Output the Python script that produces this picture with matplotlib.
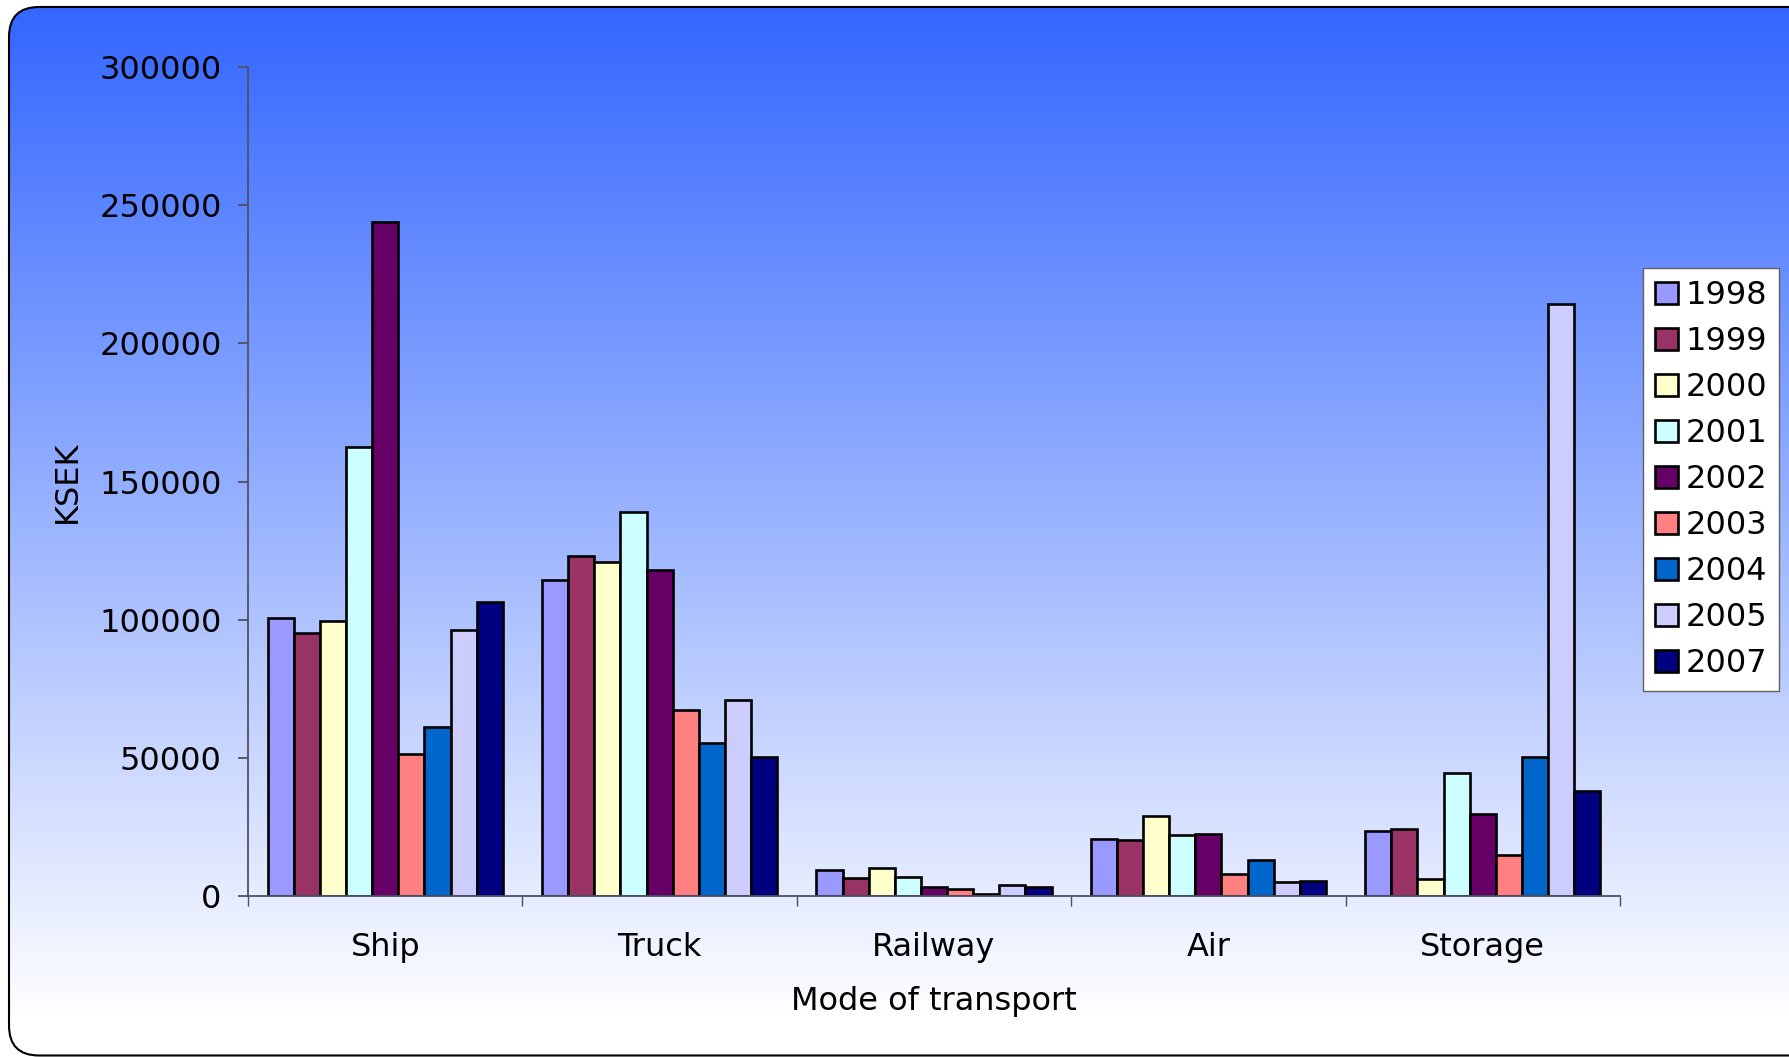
import numpy as np
import matplotlib
matplotlib.use("Agg")
import matplotlib.pyplot as plt
from matplotlib.patches import FancyBboxPatch
from matplotlib.colors import to_rgb

# ---------------- data ----------------
categories = ["Ship", "Truck", "Railway", "Air", "Storage"]
years = ["1998", "1999", "2000", "2001", "2002", "2003", "2004", "2005", "2007"]

v1998 = [100700, 114200, 9500, 20600, 23600]
v1999 = [95200, 123200, 6600, 20300, 24300]
v2000 = [99400, 120800, 10200, 29000, 6200]
v2001 = [162600, 138900, 6700, 22100, 44600]
v2002 = [243800, 118100, 3200, 22300, 29800]
v2003 = [51300, 67200, 2500, 8000, 15000]
v2004 = [61200, 55200, 800, 13000, 50200]
v2005 = [96100, 71100, 4000, 4900, 214300]
v2007 = [106400, 50300, 3300, 5400, 37900]
series = [v1998, v1999, v2000, v2001, v2002, v2003, v2004, v2005, v2007]

colors = ["#9999FF", "#993366", "#FFFFCC", "#CCFFFF", "#660066",
          "#FF8080", "#0066CC", "#CCCCFF", "#000080"]

y_ticks = [0, 50000, 100000, 150000, 200000, 250000, 300000]

# ---------------- figure ----------------
W, H = 1789, 1057
FS = 23
plt.rcParams["font.family"] = ["DejaVu Sans"]
fig = plt.figure(figsize=(W / 100, H / 100), dpi=100)
fig.patch.set_facecolor("white")

# background: rounded frame with vertical gradient
ax_bg = fig.add_axes([0, 0, 1, 1])
ax_bg.set_xlim(0, W)
ax_bg.set_ylim(0, H)
ax_bg.axis("off")
ax_bg.set_zorder(0)

x0, y0, x1, y1 = 9, 1.5, 1830, 1050
frame = FancyBboxPatch((x0, y0), x1 - x0, y1 - y0,
                       boxstyle="round,pad=0,rounding_size=30",
                       facecolor="none", edgecolor="black", linewidth=1.5,
                       zorder=3)
ax_bg.add_patch(frame)

top = np.array(to_rgb("#3366FF"))
white = np.array([1.0, 1.0, 1.0])
rows = np.arange(int(y1 - y0))
t = np.clip(rows / 1010.0, 0, 1)[:, None]
grad = top[None, :] * (1 - t) + white[None, :] * t
img = np.repeat(grad[:, None, :], 4, axis=1)
im = ax_bg.imshow(img, extent=[x0, x1, y0, y1], aspect="auto",
                  interpolation="bilinear", zorder=1)
clip = FancyBboxPatch((x0, y0), x1 - x0, y1 - y0,
                      boxstyle="round,pad=0,rounding_size=30",
                      facecolor="none", edgecolor="none",
                      transform=ax_bg.transData)
im.set_clip_path(clip)

# main axes
left, right = 248 / W, 1620 / W
bottom, topp = 1 - 896 / H, 1 - 67 / H
ax = fig.add_axes([left, bottom, right - left, topp - bottom])
ax.set_zorder(1)
ax.patch.set_alpha(0)

n = len(series)
bw = 1 / 10.5
xc = np.arange(len(categories))
for i, (vals, col, yr) in enumerate(zip(series, colors, years)):
    ax.bar(xc + (i - (n - 1) / 2) * bw, vals, width=bw, color=col,
           edgecolor="black", linewidth=1.9, label=yr, zorder=2)

ax.set_xlim(-0.5, len(categories) - 0.5)
ax.set_ylim(0, 300000)
ax.set_yticks(y_ticks)
ax.set_yticklabels([str(v) for v in y_ticks])

ax.set_xticks(np.arange(len(categories) + 1) - 0.5)
ax.set_xticklabels([])
ax.set_xticks(xc, minor=True)
ax.set_xticklabels(categories, minor=True)

axis_col = "#505060"
for s in ["top", "right"]:
    ax.spines[s].set_visible(False)
for s in ["left", "bottom"]:
    ax.spines[s].set_color(axis_col)
    ax.spines[s].set_linewidth(1.3)

ax.tick_params(axis="y", which="major", direction="out", length=7,
               width=1.3, color=axis_col, labelsize=FS, pad=12)
ax.tick_params(axis="x", which="major", direction="out", length=7,
               width=1.0, color=axis_col)
ax.tick_params(axis="x", which="minor", length=0, labelsize=FS, pad=26)

ax.set_xlabel("Mode of transport", fontsize=FS)
ax.xaxis.set_label_coords(0.5, -0.109)
ax.set_ylabel("KSEK", fontsize=FS)
ax.yaxis.set_label_coords(-0.12, 0.5)

leg = ax.legend(loc="upper left", bbox_to_anchor=(1643 / W, 1 - 268 / H),
                bbox_transform=fig.transFigure, borderaxespad=0,
                fontsize=FS, fancybox=False, framealpha=1,
                edgecolor="#606060", handlelength=0.72, handleheight=0.72,
                handletextpad=0.22, labelspacing=0.47, borderpad=0.38)
leg.get_frame().set_linewidth(1.0)

fig.savefig("out.png", dpi=100)
